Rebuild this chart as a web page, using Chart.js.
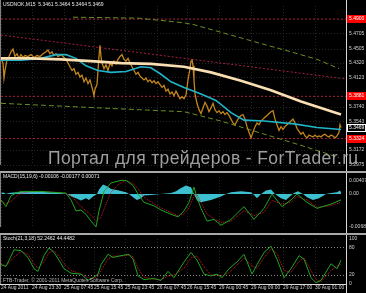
<!DOCTYPE html>
<html><head><meta charset="utf-8">
<script src="https://cdn.jsdelivr.net/npm/chart.js@4/dist/chart.umd.min.js"></script>
<style>
html,body{margin:0;padding:0;background:#000;overflow:hidden;}
#wrap{position:relative;width:366px;height:293px;background:#000;}
canvas{position:absolute;left:0;}
</style></head><body>
<div id="wrap">
<canvas id="main" width="366" height="171" style="top:0px"></canvas>
<canvas id="macd" width="366" height="62" style="top:171px"></canvas>
<canvas id="stoch" width="366" height="60" style="top:233px"></canvas>
</div>
<script>
// ---------- DATA ----------
const symbolTitle = 'USDNOK,M15  5.3461 5.3464 5.3464 5.3469';
const macdTitle = 'MACD(15,19,6) -0.00106 -0.00177 0.00071';
const stochTitle = 'Stoch(21,3,18) 52.2462 44.4482';
const copyright = 'FTB-Trader, \u00a9 2001-2011 MetaQuotes Software Corp.';
const watermark = 'Портал для трейдеров - ForTrader.ru';

const timeTicks = [0, 31, 63, 93, 124, 156, 186, 218, 250, 282, 314];
const timeLabels = ['24 Aug 2011','24 Aug 23:30','25 Aug 07:45','25 Aug 15:45','25 Aug 23:45','26 Aug 07:45','26 Aug 15:45','29 Aug 00:45','29 Aug 09:00','29 Aug 17:00','30 Aug 01:00'];

const priceTicks = [5.4705, 5.4505, 5.4320, 5.4123, 5.3740, 5.3543, 5.3172, 5.2975];
const redLevels = [5.4900, 5.3881, 5.3324];
const lastPrice = 5.3469;

const priceBar = [0,2,3,4,6,8,10,12,14,16, 18,20,22,24,27,30,33,36,39,42, 45,47,49,51,53,55,57,60,63,65,
 67,69,71,73,75,77,79,81,83,85, 87,89,91,92,93,94,96,97,98,99, 100,101,103,105,107,109,111,113,115,117,
 119,121,123,125,127,129,131,133,135,137, 139,141,143,145,147,149,151,153,155,157, 159,161,163,165,167,169,171,173,175,177,
 179,181,183,185,187,189,190,191,192,193, 194,196,198,200,202,204,206,208,210,212, 214,216,218,220,222,224,226,228,230,232,
 234,236,238,240,242,244,246,248,250,252, 254,256,258,260,262,264,266,268,270,272, 274,276,278,280,282,284,286,288,290,292,
 294,296,298,300,302,304,306,308,310,312, 314,316,318,320,322,324,326,328,330,332, 334,336,338,339,340];
const priceClose = [5.4382,5.4320,5.4123,5.4221,5.4369,5.4406,5.4468,5.4505,5.4406,5.4443,
 5.4382,5.4431,5.4394,5.4419,5.4406,5.4431,5.4394,5.4419,5.4406,5.4443,
 5.4468,5.4493,5.4443,5.4468,5.4419,5.4443,5.4406,5.4431,5.4394,5.4369,
 5.4320,5.4271,5.4221,5.4246,5.4172,5.4197,5.4135,5.4160,5.4073,5.4123,
 5.4049,5.4098,5.3999,5.3950,5.3888,5.3975,5.4036,5.4221,5.4406,5.4555,
 5.4406,5.4320,5.4246,5.4295,5.4221,5.4320,5.4283,5.4345,5.4308,5.4369,
 5.4406,5.4431,5.4369,5.4345,5.4382,5.4320,5.4271,5.4221,5.4172,5.4197,
 5.4147,5.4123,5.4098,5.4123,5.4073,5.4098,5.4061,5.4086,5.4049,5.4073,
 5.4036,5.3999,5.4024,5.3950,5.3975,5.3913,5.3938,5.3888,5.3950,5.3900,
 5.3851,5.3876,5.3851,5.3900,5.4098,5.4246,5.4345,5.4369,5.4283,5.4098,
 5.3913,5.3789,5.3703,5.3654,5.3728,5.3802,5.3752,5.3678,5.3728,5.3789,
 5.3703,5.3666,5.3691,5.3654,5.3678,5.3641,5.3666,5.3629,5.3580,5.3530,
 5.3506,5.3555,5.3604,5.3629,5.3641,5.3580,5.3481,5.3407,5.3333,5.3407,
 5.3481,5.3530,5.3506,5.3555,5.3580,5.3604,5.3629,5.3654,5.3678,5.3691,
 5.3580,5.3506,5.3432,5.3481,5.3444,5.3481,5.3506,5.3530,5.3555,5.3580,
 5.3530,5.3456,5.3419,5.3382,5.3407,5.3358,5.3333,5.3370,5.3358,5.3345,
 5.3370,5.3345,5.3358,5.3345,5.3370,5.3382,5.3358,5.3345,5.3370,5.3358,
 5.3333,5.3358,5.3407,5.3506,5.3469];

const slowMaBar = [0,30,60,90,120,150,183,210,240,270,300,320,340];
const slowMa = [5.4382,5.4382,5.4369,5.4345,5.4320,5.4308,5.4271,5.4197,5.4086,5.3962,5.3814,5.3728,5.3641];
const fastMaBar = [0,20,40,55,65,75,85,97,110,125,140,150,160,170,183,200,215,230,243,263,293,316,340];
const fastMa = [5.4357,5.4357,5.4382,5.4431,5.4431,5.4382,5.4283,5.4221,5.4197,5.4209,5.4271,5.4258,5.4172,5.4073,5.3999,5.3913,5.3826,5.3666,5.3567,5.3555,5.3518,5.3469,5.3444];
const upperBandBar = [72,137,183,193,233,266,290,316,338];
const upperBand = [5.4925,5.4913,5.4851,5.4826,5.4678,5.4555,5.4468,5.4369,5.4246];
const lowerBandBar = [0,60,120,183,220,260,300,338];
const lowerBand = [5.3789,5.3752,5.3715,5.3678,5.3555,5.3395,5.3234,5.3074];
const trendBar = [0,345];
const trendLine = [5.4690,5.4110];

const macdTicks = [0.00407, 0, -0.00991];
const macdTickLabels = ['0.00407','0.00','-0.00689'];
const macdBar = [0,5,10,15,20,40,50,65,70,75,80,85,90,95,98,103,110,120,125,132,137,143,153,160,170,177,183,188,193,196,200,206,213,220,230,243,253,263,271,281,290,296,306,316,330,340];
const macdMain = [-0.00178,-0.00381,-0.00051,0.00025,0.00076,0.00076,0.00051,0.00025,-0.00178,-0.00508,-0.00483,-0.00610,-0.00813,-0.00991,-0.00508,0.00076,0.00330,0.00406,0.00406,0.00254,0,-0.00254,-0.00356,-0.00483,-0.00610,-0.00686,-0.00508,-0.00254,0.00203,-0.00102,-0.00432,-0.00813,-0.00762,-0.00940,-0.00762,-0.00381,-0.00762,-0.00432,0,-0.00381,-0.00178,0,-0.00254,-0.00432,-0.00305,-0.00178];
const signalBar = [0,5,10,15,20,30,45,60,70,75,80,85,90,95,100,105,110,118,125,132,137,143,153,160,170,177,183,188,193,196,200,206,213,220,230,243,253,263,271,281,290,296,306,316,330,340];
const macdSignal = [-0.0020,-0.0030,-0.0022,-0.0008,0.0002,0.0007,0.0007,0.0004,-0.0004,-0.0022,-0.0038,-0.0050,-0.0064,-0.0080,-0.0070,-0.0030,0.0005,0.0030,0.0040,0.0032,0.0015,-0.0010,-0.0030,-0.0042,-0.0056,-0.0065,-0.0060,-0.0042,-0.0005,-0.0002,-0.0025,-0.0060,-0.0075,-0.0085,-0.0082,-0.0050,-0.0065,-0.0055,-0.0020,-0.0030,-0.0025,-0.0008,-0.0018,-0.0040,-0.0035,-0.0025];
const osmaBar = [0,2,5,8,15,30,50,60,66,70,75,80,85,88,92,96,98,102,106,110,118,125,128,132,136,140,143,150,160,170,175,180,185,190,193,196,200,210,220,225,230,240,250,253,256,260,265,270,274,280,285,290,293,297,302,306,312,318,325,330,336,339,340];
const osma = [0,0.0005,0,0.00025,0.0005,0.00076,0.0005,0.00025,0,-0.00076,-0.0013,-0.0020,-0.0013,-0.0018,-0.0008,0,0.0013,0.0028,0.0023,0.0015,0.0010,0.0005,0,-0.0010,-0.0018,-0.0013,-0.0005,-0.0003,0,0.0003,0.0008,0.0018,0.0025,0.0020,0,-0.0020,-0.0025,-0.0018,-0.0008,0,0.0005,0.0008,0.0005,-0.0003,-0.0013,0,0.0010,0.0013,0,-0.0013,-0.0018,-0.0005,0.0003,0.0008,0,-0.0010,-0.0018,-0.0013,0,0.0003,0.0005,0.0010,0.0005];

const stochTicks = [100, 80, 20, 0];
const stochBar = [0,5,13,20,27,33,37,43,48,53,58,63,70,80,87,92,97,100,107,112,120,128,132,137,143,153,160,167,173,183,190,196,203,210,216,221,228,236,243,251,256,263,270,276,283,290,298,303,310,315,320,330,336,340];
const stochMain = [43,39,76,74,59,34,28,63,80,70,53,34,24,22,8,14,22,43,66,59,63,66,55,18,10,12,8,28,14,49,70,53,22,18,22,14,34,49,66,22,43,70,84,55,14,34,63,55,14,3,8,45,34,53];
const stochSignal = [45,40,60,72,66,45,35,50,70,74,62,45,30,22,14,12,17,30,55,62,62,64,60,35,15,11,9,18,20,35,58,62,38,20,20,18,25,42,58,40,35,58,78,68,30,26,50,58,30,10,5,30,40,44];

// ---------- HELPERS ----------
const pts = (xs, ys) => xs.map((x, i) => ({x, y: ys[i]}));
const FONT = 'Liberation Sans';
const X_MIN = 0, X_MAX = 345;

function xScale(show) {
  return {
    type: 'linear', min: X_MIN, max: X_MAX,
    afterBuildTicks(s) { s.ticks = timeTicks.map(v => ({value: v})); },
    afterFit(s) { s.height = show ? 9 : 0; },
    ticks: { display: show, color: '#d0d0d0', font: {family: FONT, size: 4.9}, padding: 1, align: 'start', maxRotation: 0, autoSkip: false,
      callback: v => { const i = timeTicks.indexOf(v); return i >= 0 ? timeLabels[i] : ''; } },
    grid: { color: '#262626', drawTicks: false, lineWidth: 1 },
    border: { display: false, dash: [1, 2] }
  };
}
function yScale(min, max, ticks, fmt, gridColor) {
  return {
    position: 'right', min, max,
    afterBuildTicks(s) { s.ticks = ticks.map(v => ({value: v})); },
    afterFit(s) { s.width = 20; },
    ticks: { color: '#d0d0d0', font: {family: FONT, size: 5}, padding: 3, autoSkip: false, callback: fmt },
    grid: { color: gridColor || '#262626', drawTicks: false, lineWidth: 1 },
    border: { display: false, dash: [1, 2] }
  };
}
function frame(ctx, chart, topSep) {
  const a = chart.chartArea;
  ctx.fillStyle = '#d8d8d8';
  ctx.fillRect(a.right, 0, 1, chart.height);
  ctx.fillStyle = '#808080';
  ctx.fillRect(0, 0, 1, a.bottom);
  if (topSep) { ctx.fillStyle = '#a8a8a8'; ctx.fillRect(0, 0, chart.width, 2); }
}
const base = {
  responsive: false, animation: false, devicePixelRatio: 1,
  plugins: { legend: {display: false}, tooltip: {enabled: false} },
  elements: { point: {radius: 0}, line: {tension: 0} }
};

// ---------- MAIN ----------
new Chart(document.getElementById('main'), {
  type: 'line',
  data: { datasets: [
    {data: pts(slowMaBar, slowMa), borderColor: '#f9dfb2', borderWidth: 2.7, order: 1},
    {data: pts(fastMaBar, fastMa), borderColor: '#20b4c8', borderWidth: 1.6, order: 2},
    {data: pts(priceBar, priceClose), borderColor: '#c4861c', borderWidth: 1.3, order: 3},
    {data: pts(upperBandBar, upperBand), borderColor: '#6b8e23', borderWidth: 1, borderDash: [5, 3], order: 4},
    {data: pts(lowerBandBar, lowerBand), borderColor: '#6b8e23', borderWidth: 1, borderDash: [5, 3], order: 4},
    {data: pts(trendBar, trendLine), borderColor: '#a3203f', borderWidth: 1, borderDash: [2, 2], order: 5},
    ...redLevels.map(v => ({data: pts([X_MIN, X_MAX], [v, v]), borderColor: '#a3203f', borderWidth: 1, borderDash: [2, 2], order: 5}))
  ]},
  options: Object.assign({}, base, {
    layout: { padding: {left: 1, top: 1, right: 0, bottom: 0} },
    scales: {
      x: xScale(false),
      y: yScale(5.29750, 5.50728, priceTicks, v => v.toFixed(4))
    }
  }),
  plugins: [{
    id: 'mainOverlay',
    afterDraw(chart) {
      const {ctx, chartArea: a, scales: {y}} = chart;
      ctx.save();
      frame(ctx, chart, false);
      ctx.font = '5px ' + FONT;
      ctx.textBaseline = 'middle';
      redLevels.forEach(v => {
        const py = Math.round(y.getPixelForValue(v));
        ctx.fillStyle = '#ff0000';
        ctx.fillRect(a.right + 1, py - 4, 19, 8);
        ctx.fillStyle = '#ffffff';
        ctx.fillText(v.toFixed(4), a.right + 3, py);
      });
      const lp = Math.round(y.getPixelForValue(lastPrice));
      ctx.fillStyle = '#000'; ctx.fillRect(a.right + 1, lp - 4, 19, 8);
      ctx.strokeStyle = '#ffffff'; ctx.lineWidth = 1; ctx.strokeRect(a.right + 1.5, lp - 3.5, 18, 7);
      ctx.fillStyle = '#ffffff'; ctx.fillText(lastPrice.toFixed(4), a.right + 3, lp);
      ctx.fillStyle = '#e8e8e8';
      ctx.fillText(symbolTitle, 3, 5);
      ctx.font = '17.5px ' + FONT;
      const w = ctx.measureText(watermark).width;
      ctx.letterSpacing = ((310 - w) / (watermark.length - 1)).toFixed(2) + 'px';
      ctx.fillStyle = 'rgba(175,175,175,0.9)';
      ctx.textBaseline = 'alphabetic';
      ctx.fillText(watermark, 48, 164);
      ctx.restore();
    }
  }]
});

// ---------- MACD ----------
new Chart(document.getElementById('macd'), {
  type: 'line',
  data: { datasets: [
    {data: pts(macdBar, macdMain), borderColor: '#1fa51f', borderWidth: 1, order: 1},
    {data: pts(signalBar, macdSignal), borderColor: '#d01830', borderWidth: 1, borderDash: [1, 1], order: 2},
    {data: pts(osmaBar, osma), borderWidth: 0, borderColor: 'rgba(0,0,0,0)', backgroundColor: '#3cc0cf', fill: 'origin', order: 3}
  ]},
  options: Object.assign({}, base, {
    layout: { padding: {left: 1, top: 2, right: 0, bottom: 1} },
    scales: {
      x: xScale(false),
      y: yScale(-0.00991, 0.00508, macdTicks, v => { const i = macdTicks.indexOf(v); return i >= 0 ? macdTickLabels[i] : ''; }, 'rgba(0,0,0,0)')
    }
  }),
  plugins: [{
    id: 'macdOverlay',
    afterDraw(chart) {
      const {ctx} = chart;
      ctx.save();
      frame(ctx, chart, true);
      ctx.font = '5px ' + FONT; ctx.textBaseline = 'middle'; ctx.fillStyle = '#e8e8e8';
      ctx.fillText(macdTitle, 3, 6);
      ctx.restore();
    }
  }]
});

// ---------- STOCH ----------
new Chart(document.getElementById('stoch'), {
  type: 'line',
  data: { datasets: [
    {data: pts(stochBar, stochMain), borderColor: '#1fa51f', borderWidth: 1, order: 1},
    {data: pts(stochBar, stochSignal), borderColor: '#d01830', borderWidth: 1, borderDash: [1, 1], order: 2}
  ]},
  options: Object.assign({}, base, {
    layout: { padding: {left: 1, top: 2, right: 0, bottom: 0} },
    scales: {
      x: xScale(true),
      y: Object.assign(yScale(0, 100, stochTicks, v => String(v)), {
        grid: { color: c => (c.tick && (c.tick.value === 80 || c.tick.value === 20)) ? '#8a8a8a' : 'rgba(0,0,0,0)', drawTicks: false, lineWidth: 1 }
      })
    }
  }),
  plugins: [{
    id: 'stochOverlay',
    afterDraw(chart) {
      const {ctx, chartArea: a} = chart;
      ctx.save();
      frame(ctx, chart, true);
      ctx.fillStyle = '#d8d8d8'; ctx.fillRect(0, a.bottom, a.right + 1, 1);
      ctx.font = '5px ' + FONT; ctx.textBaseline = 'middle'; ctx.fillStyle = '#e8e8e8';
      ctx.fillText(stochTitle, 3, 6);
      ctx.fillStyle = '#b8b8b8';
      ctx.fillText(copyright, 3, a.bottom - 3);
      ctx.restore();
    }
  }]
});
</script>
</body></html>
